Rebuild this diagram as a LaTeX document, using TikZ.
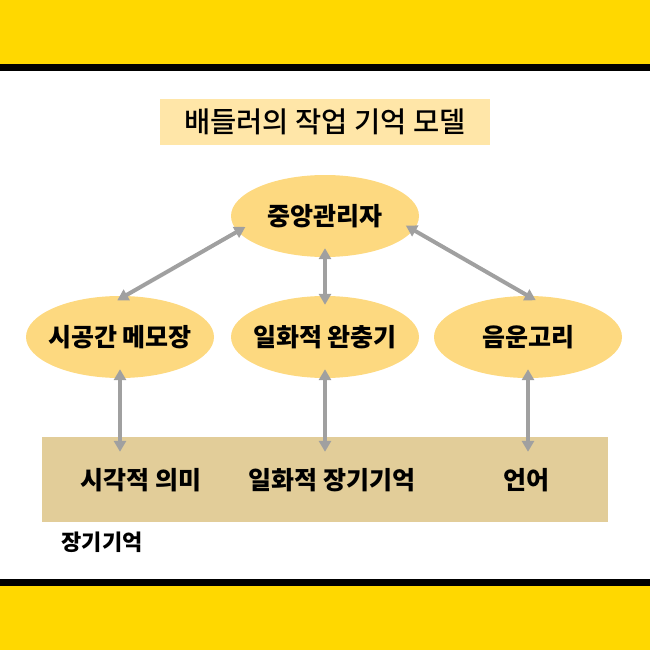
\documentclass[tikz,border=0pt]{standalone}
\usepackage{fontspec}
\newfontfamily\kr{Noto Sans CJK KR}
\newfontfamily\krm{Noto Sans CJK KR Medium}
\usetikzlibrary{arrows.meta,shapes.geometric}
\definecolor{band}{RGB}{255,216,0}
\definecolor{ovalfill}{RGB}{253,217,128}
\definecolor{titlebg}{RGB}{255,230,168}
\definecolor{ltmbg}{RGB}{226,205,153}
\definecolor{linkgray}{RGB}{160,160,160}
\begin{document}
\begin{tikzpicture}[x=1pt,y=-1pt,
    oval/.style={ellipse, fill=ovalfill, minimum width=188pt, minimum height=82pt,
                 inner ysep=0pt, inner xsep=-25pt,
                 font=\kr\bfseries\fontsize{25}{29}\selectfont},
    part/.style={font=\kr\bfseries\fontsize{25}{29}\selectfont},
    link/.style={draw=linkgray, line width=4pt,
                 {Triangle[length=11pt,width=12pt]}-{Triangle[length=11pt,width=12pt]},
                 shorten <=-9pt, shorten >=-9pt}]
        \useasboundingbox (0,0) rectangle (650,650);
        \fill[band]  (0,0)   rectangle (650,64);
        \fill[black] (0,64)  rectangle (650,71);
        \fill[black] (0,579) rectangle (650,586);
        \fill[band]  (0,586) rectangle (650,650);

        \node[fill=titlebg, minimum width=330pt, minimum height=45pt,
              font=\krm\fontsize{28.5}{32}\selectfont] (title) at (325,122) {배들러의 작업 기억 모델};

        \node[oval] (cm) at (325,216) {중앙관리자};
        \foreach \n/\x/\t in {vs/120/시공간 메모장, ep/325/일화적 완충기, pl/528/음운고리}
        {
            \node[oval] (\n) at (\x,337) {\t};
        }

        \node[fill=ltmbg, minimum width=566pt, minimum height=85pt] (ltm) at (325,479.5) {};
        \node[part] (vsm)  at (141,480) {시각적 의미};
        \node[part] (eltm) at (332,480) {일화적 장기기억};
        \node[part] (lang) at (526,480) {언어};
        \node[font=\kr\bfseries\fontsize{22}{26}\selectfont] (ltmname) at (102,542) {장기기억};

        \draw[link] (cm.190)   -- (vs.83);
        \draw[link] (cm.south) -- (ep.north);
        \draw[link] (cm.351)   -- (pl.north);
        \foreach \n in {vs,ep,pl}
        {
            \draw[link, shorten >=-15pt] (\n.south) -- (\n.south |- ltm.north);
        }
    \end{tikzpicture}
\end{document}
